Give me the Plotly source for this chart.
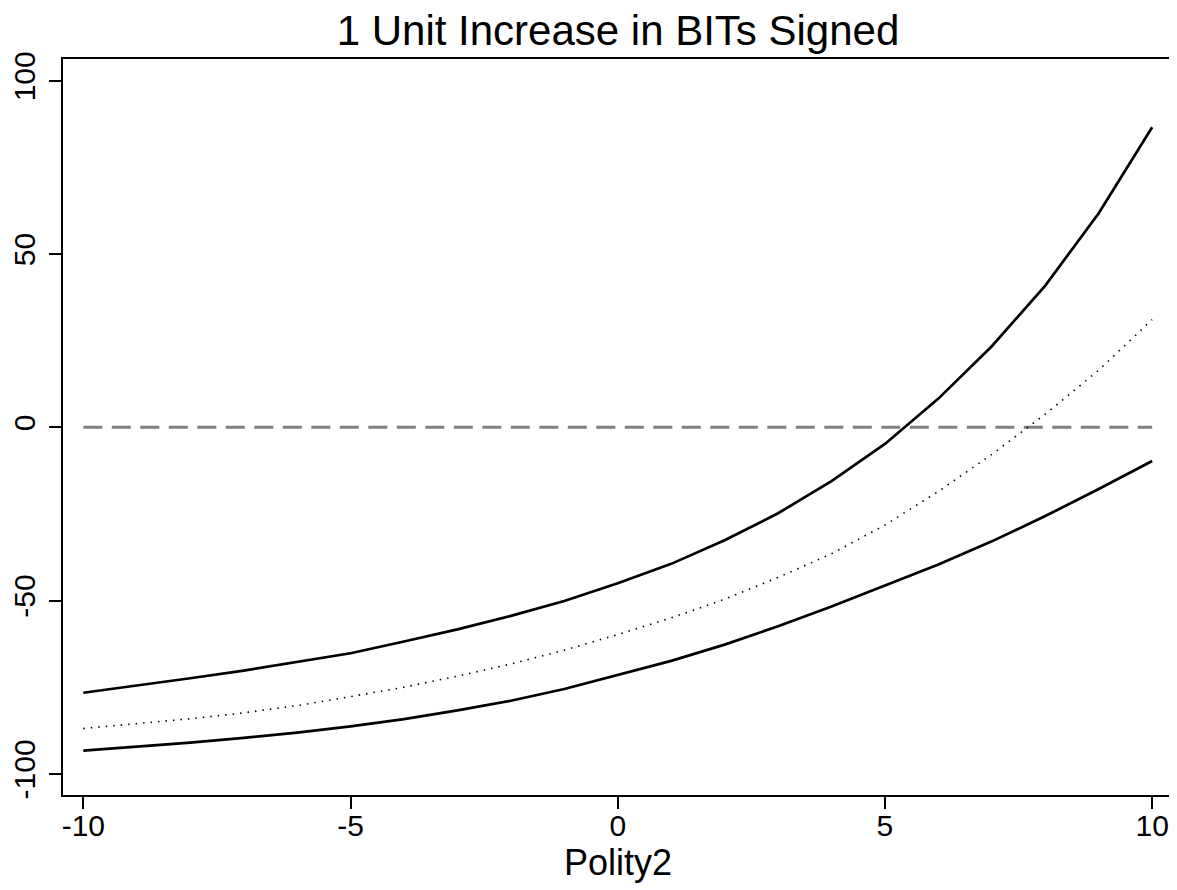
import plotly.graph_objects as go

polity = [-10, -9, -8, -7, -6, -5, -4, -3, -2, -1, 0, 1, 2, 3, 4, 5, 6, 7, 8, 9, 10]
upper = [-76.6, -74.6, -72.4, -70.2, -67.8, -65.2, -61.8, -58.3, -54.4, -50.1, -45.0,
         -39.4, -32.6, -24.8, -15.5, -4.8, 8.3, 23.4, 40.9, 61.8, 86.6]
estimate = [-86.9, -85.6, -84.1, -82.4, -80.3, -77.7, -75.0, -71.8, -68.3, -64.3, -59.8,
            -55.0, -49.6, -43.3, -36.5, -28.2, -18.5, -7.8, 3.8, 16.5, 31.1]
lower = [-93.3, -92.2, -91.0, -89.6, -88.1, -86.3, -84.2, -81.7, -78.9, -75.5, -71.5,
         -67.4, -62.7, -57.4, -51.7, -45.7, -39.6, -32.9, -25.6, -17.8, -9.7]
ref_x = [-10, 10]
ref_y = [0, 0]
x_ticks = [-10, -5, 0, 5, 10]
y_ticks = [-100, -50, 0, 50, 100]

font_family = "Liberation Sans, Arial, Helvetica, sans-serif"

fig = go.Figure()
fig.add_trace(go.Scatter(x=ref_x, y=ref_y, mode="lines",
                         line=dict(color="#808080", width=3, dash="19px,9.5px"),
                         showlegend=False, hoverinfo="skip"))
fig.add_trace(go.Scatter(x=polity, y=upper, mode="lines",
                         line=dict(color="black", width=2.7), showlegend=False))
fig.add_trace(go.Scatter(x=polity, y=estimate, mode="lines",
                         line=dict(color="black", width=1.6, dash="1.5px,6px"), showlegend=False))
fig.add_trace(go.Scatter(x=polity, y=lower, mode="lines",
                         line=dict(color="black", width=2.7), showlegend=False))

# page body has an 8px margin, so the figure is 8px smaller and offset
fig.update_layout(
    width=1169, height=882,
    margin=dict(l=55, r=4, t=51, b=95, autoexpand=False),
    paper_bgcolor="white", plot_bgcolor="white",
    font=dict(family=font_family, color="black", size=30),
    title=dict(text="1 Unit Increase in BITs Signed", x=0.5, xref="paper",
               y=1 - 22 / 882, yref="container", yanchor="middle", xanchor="center",
               font=dict(size=42, family=font_family, color="black")),
    xaxis=dict(range=[-10.38, 10.39], tickvals=x_ticks, ticktext=[str(v) for v in x_ticks],
               showgrid=False, zeroline=False, showline=True, mirror=True,
               linecolor="black", linewidth=2, ticks="outside", ticklen=12,
               tickwidth=1.5, tickcolor="black", tickfont=dict(size=30),
               ticklabelstandoff=-9,
               title=dict(text="Polity2", font=dict(size=36), standoff=8)),
    yaxis=dict(range=[-106.1, 106.3], tickvals=y_ticks, ticktext=[str(v) for v in y_ticks],
               showgrid=False, zeroline=False, showline=True, mirror=True,
               linecolor="black", linewidth=2, ticks="outside", ticklen=12,
               tickwidth=1.5, tickcolor="black", tickfont=dict(size=30), tickangle=-90,
               ticklabelstandoff=2),
)

fig.write_html("out.html")
